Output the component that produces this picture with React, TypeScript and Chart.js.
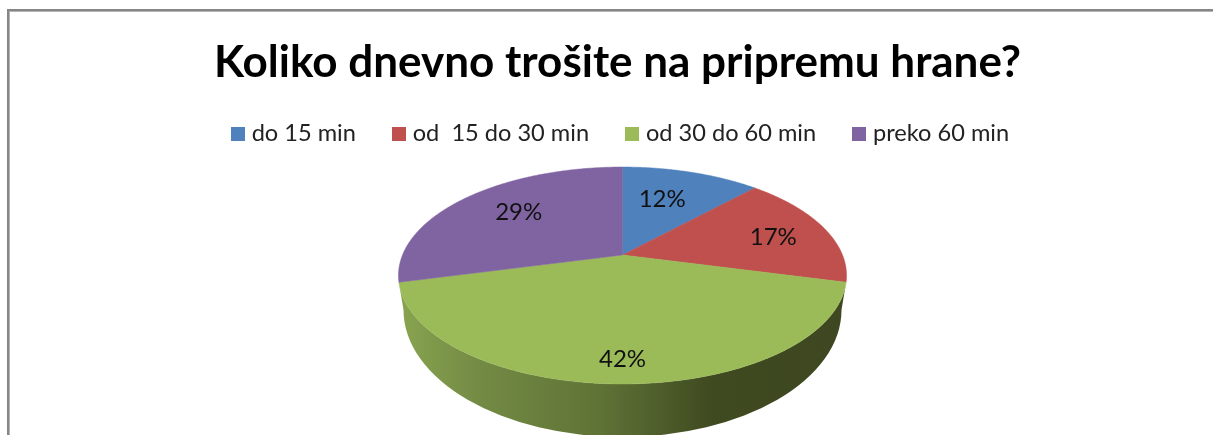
import React, { useEffect, useRef } from "react";
import { Chart, registerables } from "chart.js";

Chart.register(...registerables);

const titleText = "Koliko dnevno trošite na pripremu hrane?";
const categories = ["do 15 min", "od  15 do 30 min", "od 30 do 60 min", "preko 60 min"];
const shares = [12, 17, 42, 29];
const colours = ["#4f81bd", "#c0504d", "#9bbb59", "#8064a2"];

// Label placement inside the tilted disc (fraction of radius, degrees of shift).
const labelRadius = [0.63, 0.73, 0.84, 0.68];
const labelShift = [-3, 2.2, 0, 3.4];

// Tilted-disc projection
const CX = 622.5;
const CY = 255;
const AX = 220;
const BY = 104.6;
const PERSP = 0.189;
// Lower rim of the disc
const RIM = { cy: 310, rx: 219, ry: 127 };

const project = (a: number, r = 1): [number, number] => {
  const u = Math.cos(a) * r;
  const v = Math.sin(a) * r;
  const d = 1 - PERSP * v;
  return [CX + (AX * u) / d, CY + (BY * v) / d];
};

const swatch = (colour: string) => {
  const c = document.createElement("canvas");
  c.width = 14;
  c.height = 14;
  const g = c.getContext("2d")!;
  g.fillStyle = colour;
  g.fillRect(0, 0, 14, 14);
  return c;
};

const discPlugin = {
  id: "tiltedDisc",
  afterLayout(chart: any) {
    chart.legend.left += 5;
    chart.legend.right += 5;
  },
  beforeDraw(chart: any) {
    const { ctx, width, height } = chart;
    ctx.save();
    ctx.fillStyle = "#ffffff";
    ctx.fillRect(0, 0, width, height);
    ctx.fillStyle = "#868686";
    ctx.fillRect(7, 9, width - 7, 2);
    ctx.fillRect(7, 9, 2, height - 9);
    ctx.fillStyle = "#b4b4b4";
    ctx.fillRect(9, 11, width - 9, 1);
    ctx.fillRect(9, 11, 1, height - 11);
    ctx.restore();
  },
  beforeDatasetsDraw(chart: any) {
    const { ctx } = chart;
    const arcs = chart.getDatasetMeta(0).data;
    const step = Math.PI / 360;

    // Side wall below the front slice
    const front = arcs[2];
    const wall = ctx.createLinearGradient(CX - 223, 0, CX + 223, 0);
    wall.addColorStop(0, "#88a450");
    wall.addColorStop(0.18, "#738a44");
    wall.addColorStop(0.45, "#5f7336");
    wall.addColorStop(0.7, "#3f4a20");
    wall.addColorStop(1, "#3e4721");
    ctx.save();
    ctx.beginPath();
    for (let a = front.startAngle; a <= front.endAngle; a += step) {
      const [x, y] = project(a);
      ctx.lineTo(x, y);
    }
    ctx.ellipse(CX, RIM.cy, RIM.rx, RIM.ry, 0, Math.PI, 0, true);
    ctx.closePath();
    ctx.fillStyle = wall;
    ctx.fill();

    // Top faces
    arcs.forEach((arc: any, i: number) => {
      ctx.beginPath();
      ctx.moveTo(CX, CY);
      for (let a = arc.startAngle; a < arc.endAngle; a += step) {
        const [x, y] = project(a);
        ctx.lineTo(x, y);
      }
      const [ex, ey] = project(arc.endAngle);
      ctx.lineTo(ex, ey);
      ctx.closePath();
      ctx.fillStyle = colours[i];
      ctx.strokeStyle = colours[i];
      ctx.lineWidth = 0.5;
      ctx.fill();
      ctx.stroke();
    });

    // Percentage labels
    ctx.fillStyle = "#111111";
    ctx.font = "24px Lato";
    ctx.textAlign = "center";
    ctx.textBaseline = "middle";
    arcs.forEach((arc: any, i: number) => {
      const mid = (arc.startAngle + arc.endAngle) / 2 + (labelShift[i] * Math.PI) / 180;
      const [x, y] = project(mid, labelRadius[i]);
      ctx.fillText(`${shares[i]}%`, x, y);
    });
    ctx.restore();
    return false;
  },
};

export default function App() {
  const ref = useRef<HTMLCanvasElement>(null);
  useEffect(() => {
    const chart = new Chart(ref.current!, {
      type: "pie",
      data: {
        labels: categories,
        datasets: [{ data: shares, backgroundColor: colours, borderWidth: 0 }],
      },
      options: {
        animation: false,
        responsive: false,
        layout: { padding: { left: 22, top: 0, right: 0, bottom: 0 } },
        plugins: {
          title: {
            display: true,
            text: titleText,
            color: "#000000",
            font: { family: "Lato", size: 44, weight: "bold" },
            padding: { top: 36, bottom: -8 },
          },
          legend: {
            display: true,
            position: "top",
            labels: {
              usePointStyle: true,
              pointStyleWidth: 4,
              padding: 41,
              color: "#222222",
              font: { family: "Lato", size: 23.6 },
              generateLabels: () =>
                categories.map((text, i) => ({
                  text,
                  index: i,
                  fillStyle: colours[i],
                  strokeStyle: colours[i],
                  lineWidth: 0,
                  pointStyle: swatch(colours[i]),
                  fontColor: "#222222",
                })),
            },
          },
          tooltip: { enabled: false },
        },
      },
      plugins: [discPlugin],
    } as any);
    return () => chart.destroy();
  }, []);
  return (
    <div style={{ position: "fixed", left: 0, top: 0, width: 1213, height: 435, overflow: "hidden" }}>
      <canvas ref={ref} width={1213} height={435} style={{ display: "block", width: 1213, height: 435 }} />
    </div>
  );
}
